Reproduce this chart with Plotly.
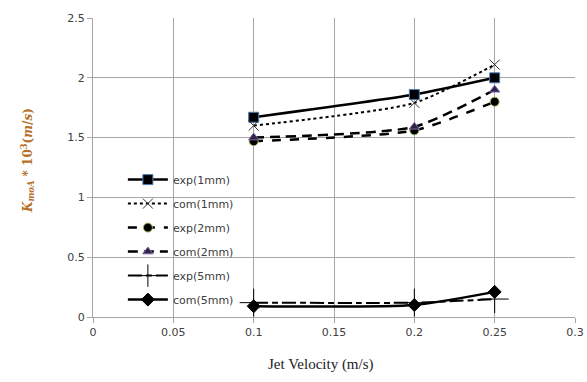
import plotly.graph_objects as go

x_vals = [0.1, 0.2, 0.25]
exp_1mm = [1.67, 1.86, 2.0]
com_1mm = [1.6, 1.79, 2.11]
exp_2mm = [1.47, 1.56, 1.8]
com_2mm = [1.5, 1.59, 1.9]
exp_5mm = [0.12, 0.12, 0.15]
com_5mm = [0.09, 0.1, 0.21]

x_ticks = [0, 0.05, 0.1, 0.15, 0.2, 0.25, 0.3]
x_tick_labels = ["0", "0.05", "0.1", "0.15", "0.2", "0.25", "0.3"]
y_ticks = [0, 0.5, 1, 1.5, 2, 2.5]
y_tick_labels = ["0", "0.5", "1", "1.5", "2", "2.5"]

series = [
    ("exp(1mm)", exp_1mm, dict(dash="solid", width=2.5),
     dict(symbol="square", size=10, color="black", line=dict(color="#4a7ebb", width=1))),
    ("com(1mm)", com_1mm, dict(dash="dot", width=2),
     dict(symbol="x-thin", size=10, color="#333", line=dict(color="#333", width=1))),
    ("exp(2mm)", exp_2mm, dict(dash="dash", width=2.5),
     dict(symbol="circle", size=9, color="black", line=dict(color="#9bbb59", width=1))),
    ("com(2mm)", com_2mm, dict(dash="10px,6px", width=2.5),
     dict(symbol="triangle-up", size=9, color="#2d2347", line=dict(color="#8064a2", width=1))),
    ("exp(5mm)", exp_5mm, dict(dash="14px,4px,6px,4px", width=2),
     dict(symbol="cross-thin", size=20, color="black", line=dict(color="black", width=1))),
    ("com(5mm)", com_5mm, dict(dash="solid", width=2.5),
     dict(symbol="diamond", size=10, color="black", line=dict(color="black", width=1))),
]

fig = go.Figure()
for i, (name, vals, ln, mk) in enumerate(series):
    fig.add_trace(go.Scatter(
        x=x_vals, y=vals, name=name, mode="lines+markers",
        line=dict(color="black", shape="spline", smoothing=0.6, **ln),
        marker=mk, legendgroup=f"g{i}",
    ))

fig.update_layout(
    width=587, height=382,
    margin=dict(l=93, r=12, t=18, b=65),
    paper_bgcolor="white", plot_bgcolor="white",
    font=dict(family="DejaVu Sans", size=11, color="#404040"),
    showlegend=True,
    legend=dict(x=0.062, y=0.508, xanchor="left", yanchor="top",
                bgcolor="rgba(0,0,0,0)", font=dict(size=11, color="#404040"),
                tracegroupgap=5, itemwidth=40),
    xaxis=dict(range=[0, 0.3], tickvals=x_ticks, ticktext=x_tick_labels,
               showgrid=True, gridcolor="#a6a6a6", gridwidth=1,
               showline=True, linecolor="#a6a6a6", ticks="outside",
               tickcolor="#a6a6a6", ticklen=5, zeroline=False, automargin=False),
    yaxis=dict(range=[0, 2.5], tickvals=y_ticks, ticktext=y_tick_labels,
               showgrid=True, gridcolor="#a6a6a6", gridwidth=1,
               showline=True, linecolor="#a6a6a6", ticks="outside",
               tickcolor="#a6a6a6", ticklen=5, zeroline=False, automargin=False),
    annotations=[
        dict(text="Jet Velocity (m/s)", xref="paper", yref="paper",
             x=0.473, y=-0.16, xanchor="center", yanchor="middle", showarrow=False,
             font=dict(family="Liberation Serif, serif", size=15, color="#222")),
        dict(text="<b><i>K</i><sub><i>moA</i></sub> * 10<sup>3</sup>(<i>m</i>/<i>s</i>)</b>",
             xref="paper", yref="paper", x=-0.135, y=0.525, textangle=-90,
             xanchor="center", yanchor="middle", showarrow=False,
             font=dict(family="DejaVu Serif", size=12, color="#b5702a")),
    ],
)

fig.write_html("out.html", config={"displayModeBar": False},
               post_script="document.body.style.margin='0';")
